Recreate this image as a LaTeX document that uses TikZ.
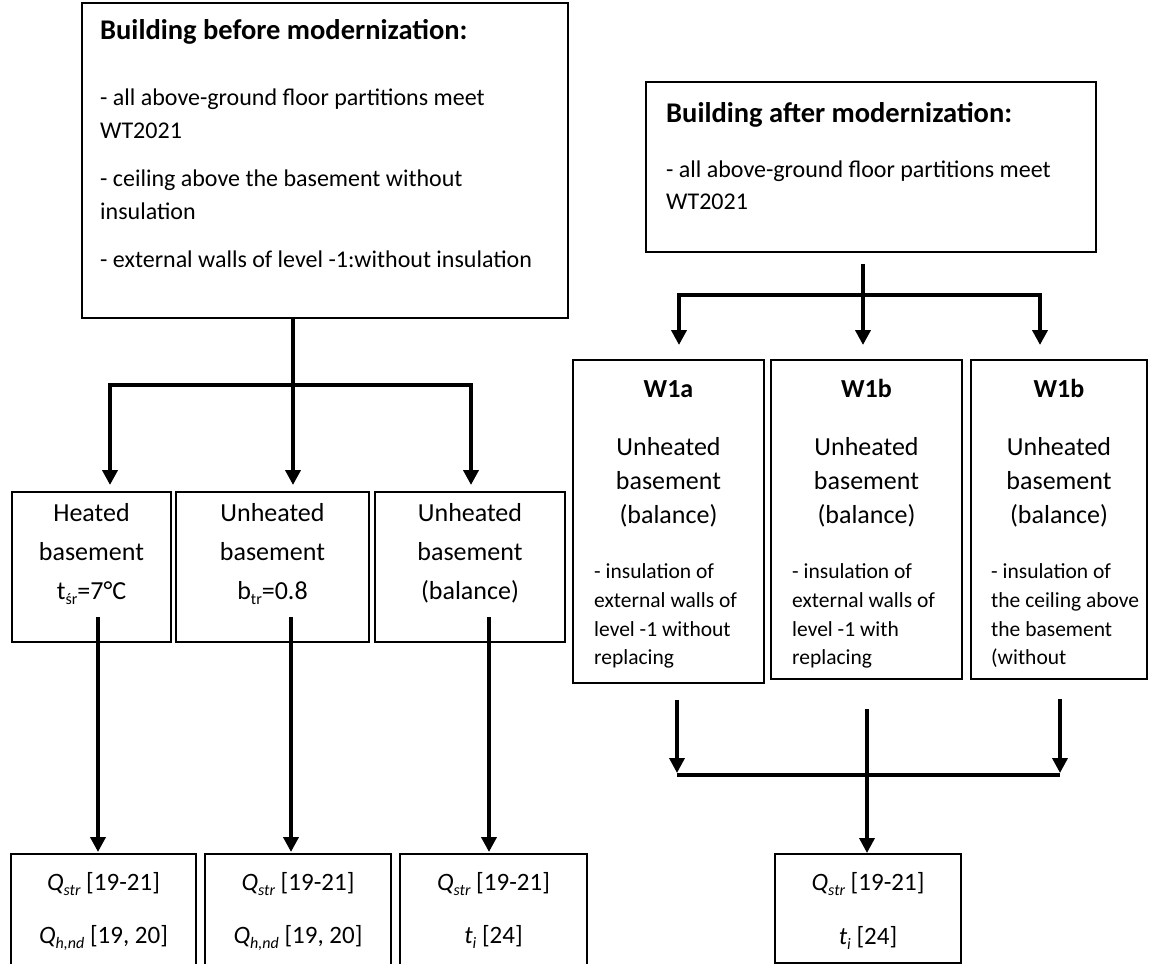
\documentclass[tikz,border=0pt]{standalone}
\usepackage{fontspec}
\setmainfont{Carlito}
\usetikzlibrary{arrows.meta,calc}
\newcommand{\sbs}[1]{\raisebox{-0.22em}{\fontsize{16}{16}\selectfont #1}}
\begin{document}
\begin{tikzpicture}[x=1pt,y=-1pt,
  box/.style={draw, line width=1.3pt, inner sep=0pt, outer sep=0pt, anchor=north west},
  txt/.style={inner sep=0pt, anchor=base west, font=\fontsize{24}{28}\selectfont},
  wtxt/.style={inner sep=0pt, anchor=base west, font=\fontsize{21.5}{26}\selectfont},
  ctxt/.style={inner sep=0pt, anchor=base, font=\fontsize{25}{29}\selectfont},
  big/.style={inner sep=0pt, anchor=base, font=\fontsize{26}{30}\selectfont},
  bigb/.style={inner sep=0pt, anchor=base, font=\fontsize{26}{30}\selectfont\bfseries},
  ttl/.style={inner sep=0pt, anchor=base west, font=\fontsize{28.5}{32}\selectfont\bfseries},
  conn/.style={line width=4pt},
  arr/.style={line width=4pt, -{Triangle[width=15pt,length=15pt]}},
  conn2/.style={line width=3.5pt},
  arr2/.style={line width=3.5pt, -{Triangle[width=15pt,length=15pt]}},
]
\useasboundingbox (0,0) rectangle (1149,964);

% ---------- left: before modernization ----------
\node[box, minimum width=486pt, minimum height=315pt] (before) at (82,3) {};
\node[ttl] (bt) at (100,39) {Building before modernization:};
\node[txt] (b1) at (100,105) {- all above-ground floor partitions meet};
\node[txt] (b2) at (100,138) {WT2021};
\node[txt] (b3) at (100,186) {- ceiling above the basement without};
\node[txt] (b4) at (100,219) {insulation};
\node[txt] (b5) at (100,267) {- external walls of level -1:without insulation};

\node[box, minimum width=159pt, minimum height=150pt] (A) at (12,492) {};
\node[box, minimum width=193pt, minimum height=150pt] (B) at (176,492) {};
\node[box, minimum width=190pt, minimum height=150pt] (C) at (375,492) {};

\node[big] (A1) at (91.5,521) {Heated};
\node[big] (A2) at (91.5,560) {basement};
\node[big] (A3) at (91.5,599) {t\sbs{śr}=7°C};
\node[big] (B1) at (272.5,521) {Unheated};
\node[big] (B2) at (272.5,560) {basement};
\node[big] (B3) at (272.5,599) {b\sbs{tr}=0.8};
\node[big] (C1) at (470,521) {Unheated};
\node[big] (C2) at (470,560) {basement};
\node[big] (C3) at (470,599) {(balance)};

\coordinate (j1) at (293,385);
\coordinate (a1) at (110,385);
\coordinate (a3) at (471,385);
\draw[conn] (before.south -| j1) -- (j1);
\draw[arr] (j1) -| ($(A.north -| a1)+(0,-7)$);
\draw[arr] (j1) -- ($(B.north -| j1)+(0,-7)$);
\draw[arr] (j1) -| ($(C.north -| a3)+(0,-7)$);

\node[box, minimum width=185pt, minimum height=120pt] (D) at (11,854) {};
\node[box, minimum width=186pt, minimum height=120pt] (E) at (205,854) {};
\node[box, minimum width=187pt, minimum height=120pt] (F) at (400,854) {};
\node[ctxt] (D1) at (103.5,890) {\itshape Q\sbs{str}\upshape\ [19-21]};
\node[ctxt] (D2) at (103.5,943) {\itshape Q\sbs{h,nd}\upshape\ [19, 20]};
\node[ctxt] (E1) at (298,890) {\itshape Q\sbs{str}\upshape\ [19-21]};
\node[ctxt] (E2) at (298,943) {\itshape Q\sbs{h,nd}\upshape\ [19, 20]};
\node[ctxt] (F1) at (493.5,890) {\itshape Q\sbs{str}\upshape\ [19-21]};
\node[ctxt] (F2) at (493.5,943) {\itshape t\sbs{i}\upshape\ [24]};

\coordinate (s1) at (98,617);
\coordinate (s2) at (291,617);
\coordinate (s3) at (489,617);
\draw[arr] (s1) -- ($(D.north -| s1)+(0,-2)$);
\draw[arr] (s2) -- ($(E.north -| s2)+(0,-2)$);
\draw[arr] (s3) -- ($(F.north -| s3)+(0,-2)$);

% ---------- right: after modernization ----------
\node[box, minimum width=450pt, minimum height=170pt] (after) at (646,82) {};
\node[ttl] (at) at (666,122) {Building after modernization:};
\node[txt] (a1t) at (666,177) {- all above-ground floor partitions meet};
\node[txt] (a2t) at (666,209) {WT2021};

\coordinate (j2) at (863,295);
\coordinate (w1) at (679,295);
\coordinate (w3) at (1040,295);
\draw[conn] ($(after.south -| j2)+(0,12)$) -- (j2);

\node[box, minimum width=191pt, minimum height=323pt] (W1) at (573,360) {};
\node[box, minimum width=191pt, minimum height=319pt] (W2) at (771,360) {};
\node[box, minimum width=176pt, minimum height=319pt] (W3) at (971,360) {};

\draw[arr] (j2) -| ($(W1.north -| w1)+(0,-15)$);
\draw[arr] (j2) -- ($(W2.north -| j2)+(0,-15)$);
\draw[arr] (j2) -| ($(W3.north -| w3)+(0,-15)$);

\node[bigb] (W1a) at (668.5,397) {W1a};
\node[big] (W1b) at (668.5,455) {Unheated};
\node[big] (W1c) at (668.5,489) {basement};
\node[big] (W1d) at (668.5,523) {(balance)};
\node[wtxt] (W1e) at (594,578) {- insulation of};
\node[wtxt] (W1f) at (594,607) {external walls of};
\node[wtxt] (W1g) at (594,636) {level -1 without};
\node[wtxt] (W1h) at (594,664) {replacing};

\node[bigb] (W2a) at (866.5,397) {W1b};
\node[big] (W2b) at (866.5,455) {Unheated};
\node[big] (W2c) at (866.5,489) {basement};
\node[big] (W2d) at (866.5,523) {(balance)};
\node[wtxt] (W2e) at (792,578) {- insulation of};
\node[wtxt] (W2f) at (792,607) {external walls of};
\node[wtxt] (W2g) at (792,636) {level -1 with};
\node[wtxt] (W2h) at (792,664) {replacing};

\node[bigb] (W3a) at (1059,397) {W1b};
\node[big] (W3b) at (1059,455) {Unheated};
\node[big] (W3c) at (1059,489) {basement};
\node[big] (W3d) at (1059,523) {(balance)};
\node[wtxt] (W3e) at (991,578) {- insulation of};
\node[wtxt] (W3f) at (991,607) {the ceiling above};
\node[wtxt] (W3g) at (991,636) {the basement};
\node[wtxt] (W3h) at (991,664) {(without};

\node[box, minimum width=186pt, minimum height=109pt] (R) at (775,854) {};
\node[ctxt] (R1) at (868,890) {\itshape Q\sbs{str}\upshape\ [19-21]};
\node[ctxt] (R2) at (868,944) {\itshape t\sbs{i}\upshape\ [24]};

\coordinate (l1) at (677,700);
\coordinate (l2) at (867,709);
\coordinate (l3) at (1060,699);
\coordinate (m1) at (677,775);
\coordinate (m3) at (1060,775);
\draw[conn2] (m1) -- (m3);
\draw[arr2] (l1) -- ($(m1)+(0,-2)$);
\draw[arr2] (l3) -- ($(m3)+(0,-2)$);
\draw[arr2] (l2) -- ($(R.north -| l2)+(0,-1)$);
\end{tikzpicture}
\end{document}
